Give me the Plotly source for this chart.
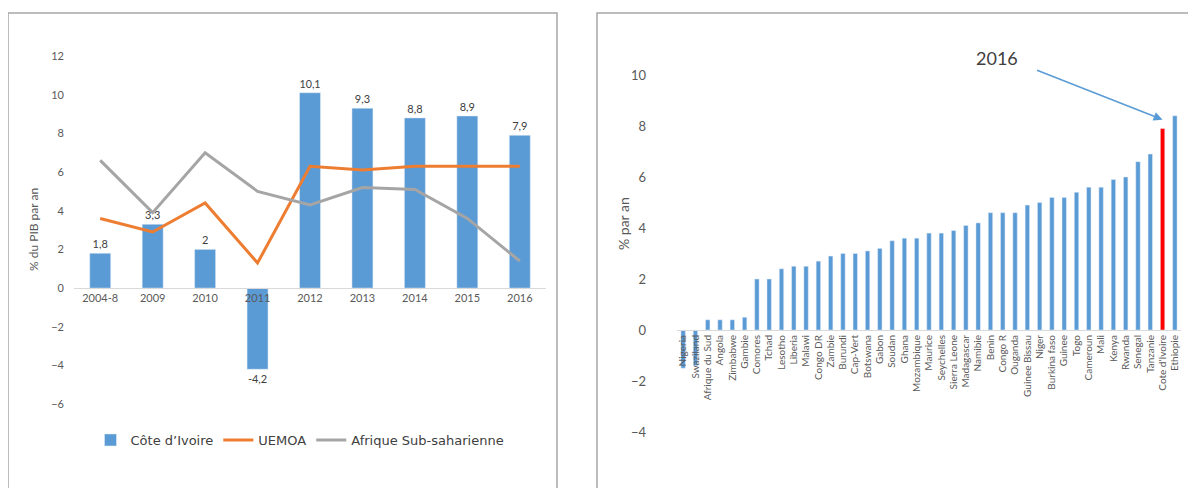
import plotly.graph_objects as go

# ---- Left panel data ----
years = ["2004-8", "2009", "2010", "2011", "2012", "2013", "2014", "2015", "2016"]
civ_growth = [1.8, 3.3, 2.0, -4.2, 10.1, 9.3, 8.8, 8.9, 7.9]
uemoa_growth = [3.6, 2.9, 4.4, 1.3, 6.3, 6.1, 6.3, 6.3, 6.3]
ssa_growth = [6.6, 3.9, 7.0, 5.0, 4.3, 5.2, 5.1, 3.6, 1.4]
left_yticks = [-6, -4, -2, 0, 2, 4, 6, 8, 10, 12]

# ---- Right panel data ----
countries = ["Nigeria", "Swaziland", "Afrique du Sud", "Angola", "Zimbabwe", "Gambie",
             "Comores", "Tchad", "Lesotho", "Liberia", "Malawi", "Congo DR", "Zambie",
             "Burundi", "Cap-Vert", "Botswana", "Gabon", "Soudan", "Ghana", "Mozambique",
             "Maurice", "Seychelles", "Sierra Leone", "Madagascar", "Namibie", "Benin",
             "Congo R", "Ouganda", "Guinee Bissau", "Niger", "Burkina faso", "Guinee",
             "Togo", "Cameroun", "Mali", "Kenya", "Rwanda", "Senegal", "Tanzanie",
             "Cote d'Ivoire", "Ethiopie"]
growth_2016 = [-1.5, -1.4, 0.4, 0.4, 0.4, 0.5,
               2.0, 2.0, 2.4, 2.5, 2.5, 2.7, 2.9,
               3.0, 3.0, 3.1, 3.2, 3.5, 3.6, 3.6,
               3.8, 3.8, 3.9, 4.1, 4.2, 4.6,
               4.6, 4.6, 4.9, 5.0, 5.2, 5.2,
               5.4, 5.6, 5.6, 5.9, 6.0, 6.6, 6.9,
               7.9, 8.4]
highlight = "Cote d'Ivoire"
right_yticks = [-4, -2, 0, 2, 4, 6, 8, 10]

BLUE = "#5B9BD5"
ORANGE = "#ED7D31"
GRAY = "#A5A5A5"
RED = "#FF0000"
TXT = "#595959"
W, H = 1196, 488
OFF = 8  # page body margin

def px(x):
    return (x - OFF) / W

def py(y):
    return 1 - (y - OFF) / H

fig = go.Figure()

labels = [("%g" % v).replace(".", ",") for v in civ_growth]
fig.add_trace(go.Bar(x=years, y=civ_growth, name="Côte d’Ivoire", marker_color=BLUE,
                     width=0.4, text=labels, textposition="outside", cliponaxis=False,
                     textfont=dict(size=11, color="#404040", family="Lato"),
                     xaxis="x", yaxis="y"))
fig.add_trace(go.Scatter(x=years, y=uemoa_growth, name="UEMOA", mode="lines",
                         line=dict(color=ORANGE, width=3), xaxis="x", yaxis="y"))
fig.add_trace(go.Scatter(x=years, y=ssa_growth, name="Afrique Sub-saharienne", mode="lines",
                         line=dict(color=GRAY, width=3), xaxis="x", yaxis="y"))

colors = [RED if c == highlight else BLUE for c in countries]
fig.add_trace(go.Bar(x=countries, y=growth_2016, marker_color=colors, width=0.36,
                     showlegend=False, xaxis="x2", yaxis="y2"))

hi_idx = countries.index(highlight)

fig.update_layout(
    width=W, height=H,
    margin=dict(l=0, r=0, t=0, b=0, autoexpand=False),
    paper_bgcolor="white", plot_bgcolor="white",
    showlegend=True,
    legend=dict(orientation="h", x=px(300), y=py(440), xanchor="center", yanchor="middle",
                font=dict(family="DejaVu Sans", size=13, color="#404040"),
                bgcolor="rgba(0,0,0,0)", itemwidth=30, tracegroupgap=0),
    xaxis=dict(domain=[px(74), px(546)], anchor="free", position=py(288), automargin=False,
               showline=True, linecolor="#D9D9D9", linewidth=1, showgrid=False,
               ticks="", tickfont=dict(family="Lato", size=11, color=TXT),
               fixedrange=True),
    yaxis=dict(domain=[py(407), py(56)], range=[-6.15, 12], tickvals=left_yticks, automargin=False,
               showgrid=False, zeroline=False, showline=False, anchor="free",
               position=px(64), tickfont=dict(family="Lato", size=11, color=TXT)),
    xaxis2=dict(domain=[px(677), px(1181)], anchor="free", position=py(330), automargin=False,
                range=[-0.5, len(countries) - 0.5],
                showline=True, linecolor="#D9D9D9", linewidth=1, showgrid=False,
                ticks="", tickangle=-90, tickfont=dict(family="Lato", size=10, color=TXT)),
    yaxis2=dict(domain=[py(432), py(75)], range=[-4, 10], tickvals=right_yticks, automargin=False,
                showgrid=False, zeroline=False, showline=False, anchor="free",
                position=px(646), tickfont=dict(family="Lato", size=13, color=TXT)),
    shapes=[
        dict(type="rect", xref="paper", yref="paper", x0=px(8), x1=px(557),
             y0=-0.2, y1=py(13), line=dict(color="#A6A6A6", width=1.5)),
        dict(type="rect", xref="paper", yref="paper", x0=px(597), x1=1.2,
             y0=-0.2, y1=py(13), line=dict(color="#A6A6A6", width=1.5)),
    ],
    annotations=[
        dict(text="% du PIB par an", xref="paper", yref="paper", x=px(33), y=py(230),
             xanchor="center", yanchor="middle",
             textangle=-90, showarrow=False, font=dict(family="Lato", size=12, color=TXT)),
        dict(text="% par an", xref="paper", yref="paper", x=px(623), y=py(224),
             xanchor="center", yanchor="middle",
             textangle=-90, showarrow=False, font=dict(family="Lato", size=14, color=TXT)),
        dict(text="2016", xref="paper", yref="paper", x=px(997), y=py(58),
             xanchor="center", yanchor="middle",
             showarrow=False, font=dict(family="Lato", size=18, color="#404040")),
        dict(text="", xref="x2", yref="y2", x=hi_idx, y=growth_2016[hi_idx] + 0.35,
             showarrow=True, arrowhead=2, arrowsize=1.2, arrowwidth=1.5, arrowcolor=BLUE,
             axref="pixel", ayref="pixel", ax=-127, ay=-50),
    ],
)

fig.write_html("out.html")
